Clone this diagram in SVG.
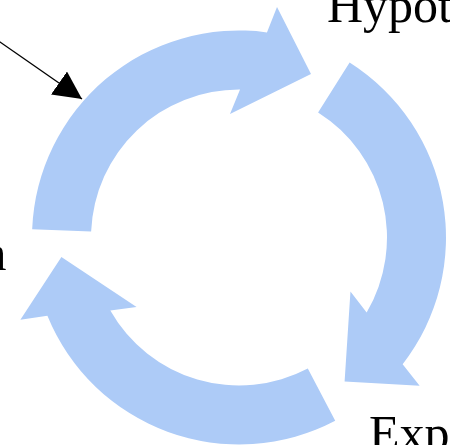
<svg xmlns="http://www.w3.org/2000/svg" xmlns:xlink="http://www.w3.org/1999/xlink" width="450" height="445" viewBox="0 0 450 445">
  <style>
    .cyc { fill: #adcbf7; stroke: none; }
    .lbl { font-family: "Liberation Serif", "Times New Roman", serif; font-size: 50px; fill: #000; }
    .conn { stroke: #000; stroke-width: 1.4; fill: none; }
  </style>
  <defs>
    <path id="cycArrow" d="M 32.17,229.19 A 207 207 0 0 1 266.95,32.40 L 277,7 L 311,74 L 230,114 L 240.03,89.5 A 148 148 0 0 0 91.12,231.56 Z"/>
    <marker id="head" markerUnits="userSpaceOnUse" markerWidth="28" markerHeight="28" viewBox="0 0 27 27" refX="27" refY="13.5" orient="auto">
      <path d="M0,0 L27,13.5 L0,27 Z" fill="#000"/>
    </marker>
  </defs>
  <rect width="450" height="445" fill="#fff"/>
  <g id="arrow-top">
    <use xlink:href="#cycArrow" href="#cycArrow" class="cyc"/>
  </g>
  <g id="arrow-right">
    <use xlink:href="#cycArrow" href="#cycArrow" class="cyc" transform="rotate(120 239 237.5)"/>
  </g>
  <g id="arrow-left">
    <use xlink:href="#cycArrow" href="#cycArrow" class="cyc" transform="rotate(240 239 237.5)"/>
  </g>
  <g id="label-hypot">
    <text class="lbl" x="327" y="22">Hypot</text>
  </g>
  <g id="label-exp">
    <text class="lbl" x="369" y="450">Exp</text>
  </g>
  <g id="label-n">
    <text class="lbl" x="-18.5" y="270">n</text>
  </g>
  <g id="connectors">
    <line class="conn" x1="-10" y1="35.05" x2="82" y2="99" marker-end="url(#head)"/>
  </g>
</svg>
